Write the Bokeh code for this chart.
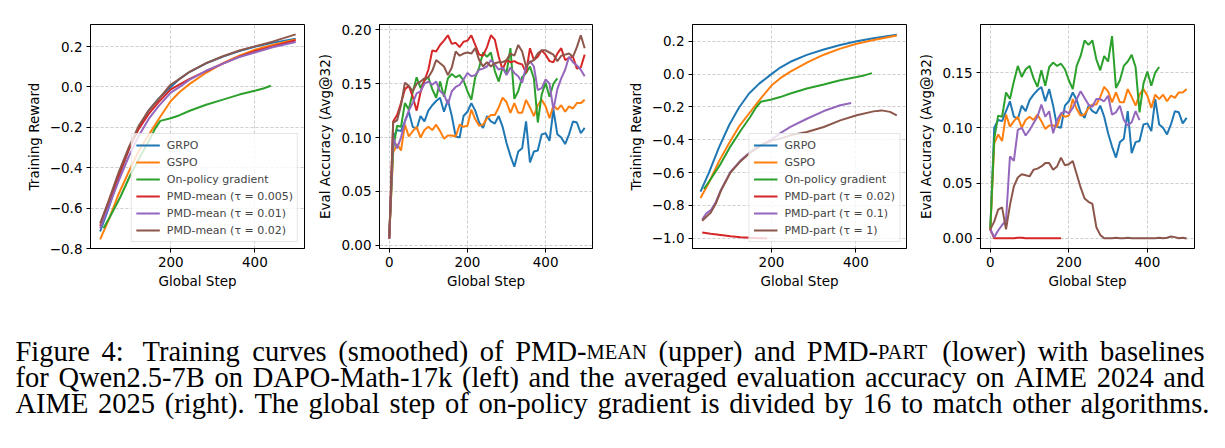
from bokeh.plotting import figure
from bokeh.models import Range1d, FixedTicker, CustomJSTickFormatter, Label
from bokeh.layouts import row, column
from bokeh.embed import file_html
from bokeh.resources import INLINE

# ---------------- data ----------------
# training reward (smoothed), shared baselines
train_x = [32, 52, 76, 100, 123, 147, 171, 200, 221, 245, 284, 324, 363, 402, 442, 497]
grpo_train = [-0.716, -0.60, -0.445, -0.31, -0.205, -0.118, -0.058, 0.0, 0.04, 0.075, 0.117, 0.15, 0.177, 0.2, 0.218, 0.239]
gspo_train = [-0.755, -0.66, -0.53, -0.42, -0.32, -0.24, -0.16, -0.07, -0.025, 0.015, 0.07, 0.118, 0.155, 0.185, 0.208, 0.235]
pg_train_x = [40, 56, 80, 103, 127, 150, 163, 175, 200, 221, 245, 284, 324, 363, 402, 420, 438]
pg_train = [-0.70, -0.64, -0.545, -0.44, -0.345, -0.26, -0.205, -0.168, -0.155, -0.14, -0.118, -0.088, -0.063, -0.038, -0.018, -0.008, 0.006]

mean005_train = [-0.69, -0.575, -0.44, -0.31, -0.21, -0.135, -0.075, -0.012, 0.012, 0.04, 0.078, 0.115, 0.15, 0.178, 0.2, 0.231]
mean01_train = [-0.70, -0.595, -0.465, -0.345, -0.245, -0.16, -0.095, -0.028, 0.0, 0.036, 0.08, 0.115, 0.148, 0.172, 0.196, 0.222]
mean02_train = [-0.676, -0.564, -0.423, -0.299, -0.195, -0.117, -0.06, 0.012, 0.04, 0.075, 0.118, 0.152, 0.18, 0.202, 0.224, 0.26]

part002_train_x = [36, 56, 80, 103, 127, 150, 174, 190]
part002_train = [-0.964, -0.972, -0.98, -0.988, -0.993, -0.997, -0.999, -1.0]
part01_train_x = [36, 45, 56, 68, 80, 103, 127, 150, 174, 200, 221, 245, 284, 324, 363, 389]
part01_train = [-0.885, -0.85, -0.83, -0.78, -0.707, -0.595, -0.525, -0.474, -0.433, -0.399, -0.36, -0.322, -0.272, -0.225, -0.19, -0.176]
part1_train_x = [36, 45, 56, 68, 80, 103, 127, 150, 174, 200, 221, 245, 284, 324, 363, 402, 442, 461, 481, 497]
part1_train = [-0.893, -0.87, -0.845, -0.79, -0.712, -0.6, -0.53, -0.478, -0.437, -0.405, -0.393, -0.373, -0.353, -0.322, -0.282, -0.251, -0.227, -0.221, -0.23, -0.251]

# eval accuracy (Avg@32)
eval_x = list(range(0, 501, 10))
grpo_eval = [0.007, 0.100, 0.107, 0.106, 0.115, 0.124, 0.110, 0.108, 0.120, 0.115,
             0.125, 0.130, 0.134, 0.137, 0.124, 0.135, 0.120, 0.101, 0.100, 0.120,
             0.124, 0.132, 0.125, 0.114, 0.109, 0.120, 0.115, 0.113, 0.120, 0.110,
             0.095, 0.083, 0.073, 0.087, 0.090, 0.115, 0.077, 0.087, 0.088, 0.103,
             0.104, 0.097, 0.126, 0.103, 0.100, 0.094, 0.103, 0.115, 0.114, 0.104, 0.109]
gspo_eval = [0.007, 0.086, 0.094, 0.088, 0.112, 0.101, 0.106, 0.110, 0.100, 0.107,
             0.110, 0.107, 0.112, 0.106, 0.099, 0.102, 0.102, 0.101, 0.112, 0.110,
             0.111, 0.126, 0.117, 0.111, 0.112, 0.118, 0.121, 0.121, 0.128, 0.137,
             0.133, 0.123, 0.132, 0.123, 0.123, 0.135, 0.128, 0.120, 0.130, 0.135,
             0.129, 0.118, 0.130, 0.126, 0.130, 0.124, 0.129, 0.127, 0.132, 0.132, 0.135]
pg_eval_x = list(range(0, 431, 10))
pg_eval = [0.009, 0.090, 0.111, 0.110, 0.132, 0.126, 0.142, 0.156, 0.146, 0.153,
           0.156, 0.145, 0.137, 0.152, 0.138, 0.155, 0.159, 0.156, 0.158, 0.153,
           0.143, 0.135, 0.156, 0.165, 0.179, 0.175, 0.179, 0.162, 0.152, 0.165,
           0.160, 0.183, 0.136, 0.143, 0.156, 0.160, 0.166, 0.155, 0.114, 0.140,
           0.151, 0.138, 0.150, 0.155]
mean005_eval = [0.006, 0.115, 0.121, 0.132, 0.145, 0.148, 0.138, 0.125, 0.142, 0.153,
                0.163, 0.181, 0.180, 0.186, 0.190, 0.195, 0.187, 0.188, 0.184, 0.189,
                0.190, 0.195, 0.186, 0.177, 0.176, 0.184, 0.195, 0.191, 0.175, 0.163,
                0.172, 0.170, 0.171, 0.169, 0.168, 0.160, 0.183, 0.172, 0.175, 0.181,
                0.177, 0.171, 0.170, 0.178, 0.183, 0.172, 0.174, 0.175, 0.164, 0.165, 0.177]
mean01_eval = [0.006, 0.100, 0.090, 0.100, 0.115, 0.125, 0.132, 0.141, 0.143, 0.150,
               0.152, 0.149, 0.152, 0.143, 0.140, 0.131, 0.143, 0.147, 0.149, 0.154,
               0.160, 0.157, 0.158, 0.163, 0.164, 0.166, 0.172, 0.168, 0.163, 0.165,
               0.158, 0.165, 0.160, 0.157, 0.151, 0.166, 0.171, 0.166, 0.144, 0.146,
               0.154, 0.150, 0.126, 0.145, 0.155, 0.163, 0.175, 0.170, 0.167, 0.163, 0.157]
mean02_eval = [0.006, 0.114, 0.116, 0.130, 0.151, 0.148, 0.143, 0.150, 0.152, 0.155,
               0.156, 0.162, 0.172, 0.169, 0.166, 0.158, 0.165, 0.180, 0.176, 0.178,
               0.179, 0.178, 0.183, 0.172, 0.166, 0.170, 0.166, 0.169, 0.170, 0.170,
               0.172, 0.178, 0.176, 0.186, 0.180, 0.166, 0.170, 0.172, 0.178, 0.181,
               0.181, 0.179, 0.177, 0.171, 0.176, 0.177, 0.178, 0.175, 0.184, 0.195, 0.183]
part002_eval_x = list(range(0, 181, 10))
part002_eval = [0.008, 0.0, 0.0, 0.0, 0.0, 0.0, 0.0, 0.0005, 0.0005, 0.0,
                0.0, 0.0, 0.0, 0.0, 0.0, 0.0, 0.0, 0.0, 0.0]
part01_eval_x = list(range(0, 381, 10))
part01_eval = [0.008, 0.001, 0.007, 0.012, 0.016, 0.074, 0.070, 0.098, 0.100, 0.093,
               0.098, 0.104, 0.110, 0.121, 0.110, 0.115, 0.095, 0.107, 0.113, 0.115,
               0.113, 0.118, 0.126, 0.133, 0.127, 0.121, 0.119, 0.126, 0.126, 0.124,
               0.129, 0.112, 0.114, 0.120, 0.107, 0.102, 0.105, 0.115, 0.107]
part1_eval = [0.008, 0.015, 0.026, 0.028, 0.008, 0.030, 0.047, 0.055, 0.058, 0.057,
              0.056, 0.062, 0.063, 0.065, 0.068, 0.068, 0.062, 0.065, 0.073, 0.066,
              0.067, 0.070, 0.058, 0.046, 0.036, 0.033, 0.031, 0.010, 0.003, 0.0,
              0.0, 0.0, 0.0005, 0.0, 0.0, 0.0005, 0.0, 0.0, 0.0, 0.0,
              0.0, 0.0, 0.0, 0.0005, 0.0, 0.0005, 0.0015, 0.001, 0.0, 0.0005, -0.0003]

x_ticks = [0, 200, 400]
train_mean_ticks = [-0.8, -0.6, -0.4, -0.2, 0.0, 0.2]
train_part_ticks = [-1.0, -0.8, -0.6, -0.4, -0.2, 0.0, 0.2]
eval_mean_ticks = [0.0, 0.05, 0.1, 0.15, 0.2]
eval_part_ticks = [0.0, 0.05, 0.1, 0.15]

labels_base = ["GRPO", "GSPO", "On-policy gradient"]
labels_mean = ["PMD-mean (\u03c4 = 0.005)", "PMD-mean (\u03c4 = 0.01)", "PMD-mean (\u03c4 = 0.02)"]
labels_part = ["PMD-part (\u03c4 = 0.02)", "PMD-part (\u03c4 = 0.1)", "PMD-part (\u03c4 = 1)"]

caption_lines = [
    "Figure 4:  Training curves (smoothed) of PMD-MEAN (upper) and PMD-PART (lower) with baselines",
    "for Qwen2.5-7B on DAPO-Math-17k (left) and the averaged evaluation accuracy on AIME 2024 and",
    "AIME 2025 (right). The global step of on-policy gradient is divided by 16 to match other algorithms.",
]
small_caps_words = ["MEAN", "PART"]

# ---------------- style ----------------
FONT = "DejaVu Sans"
COLORS = ["#1f77b4", "#ff7f0e", "#2ca02c", "#d62728", "#9467bd", "#8c564b"]
LW = 2


def make_fig(width, left, right, xr, yr, yticks, ydec, ylabel):
    p = figure(width=width, height=300, x_range=Range1d(*xr), y_range=Range1d(*yr),
               toolbar_location=None, output_backend="svg", tools="")
    p.min_border_left = left
    p.min_border_right = right
    p.min_border_top = 24
    p.min_border_bottom = 52
    p.outline_line_color = "black"
    p.outline_line_width = 1
    p.outline_line_alpha = 1
    p.background_fill_color = "white"
    p.border_fill_color = "white"
    for ax in (p.xaxis[0], p.yaxis[0]):
        ax.axis_line_color = "black"
        ax.major_tick_line_color = "black"
        ax.major_tick_out = 4
        ax.major_tick_in = 0
        ax.minor_tick_line_color = None
        ax.major_label_text_font = FONT
        ax.major_label_text_font_size = "13.5px"
        ax.major_label_text_color = "black"
        ax.axis_label_text_font = FONT
        ax.axis_label_text_font_size = "13.5px"
        ax.axis_label_text_font_style = "normal"
        ax.axis_label_text_color = "black"
        ax.major_label_standoff = 4
    p.xaxis.ticker = FixedTicker(ticks=x_ticks)
    p.yaxis.ticker = FixedTicker(ticks=yticks)
    p.yaxis.formatter = CustomJSTickFormatter(
        code="return tick.toFixed(%d).replace('-', '\u2212');" % ydec)
    p.xaxis.axis_label = "Global Step"
    p.yaxis.axis_label = ylabel
    p.xaxis.axis_label_standoff = 3
    p.yaxis.axis_label_standoff = 5
    p.grid.grid_line_color = "#b0b0b0"
    p.grid.grid_line_dash = "3 2"
    p.grid.grid_line_width = 0.8
    p.grid.grid_line_alpha = 0.8
    return p


def style_legend(p):
    lg = p.legend[0]
    lg.location = "bottom_right"
    lg.margin = 6
    lg.padding = 4
    lg.spacing = 3
    lg.glyph_width = 24
    lg.glyph_height = 14
    lg.label_height = 14
    lg.label_standoff = 7
    lg.label_text_font = FONT
    lg.label_text_font_size = "11px"
    lg.border_line_color = "#cccccc"
    lg.border_line_width = 1
    lg.background_fill_color = "white"
    lg.background_fill_alpha = 0.8


# Panel 1: training reward, PMD-mean
p1 = make_fig(310, 90, 6, (9, 518), (-0.8, 0.309), train_mean_ticks, 1, "Training Reward")
p1.line(train_x, grpo_train, color=COLORS[0], line_width=LW, legend_label=labels_base[0])
p1.line(train_x, gspo_train, color=COLORS[1], line_width=LW, legend_label=labels_base[1])
p1.line(pg_train_x, pg_train, color=COLORS[2], line_width=LW, legend_label=labels_base[2])
p1.line(train_x, mean005_train, color=COLORS[3], line_width=LW, legend_label=labels_mean[0])
p1.line(train_x, mean01_train, color=COLORS[4], line_width=LW, legend_label=labels_mean[1])
p1.line(train_x, mean02_train, color=COLORS[5], line_width=LW, legend_label=labels_mean[2])
style_legend(p1)

# Panel 2: eval accuracy, PMD-mean
p2 = make_fig(290, 69, 8, (-25, 520), (-0.003, 0.205), eval_mean_ticks, 2, "Eval Accuracy (Avg@32)")
p2.line(eval_x, grpo_eval, color=COLORS[0], line_width=LW)
p2.line(eval_x, gspo_eval, color=COLORS[1], line_width=LW)
p2.line(pg_eval_x, pg_eval, color=COLORS[2], line_width=LW)
p2.line(eval_x, mean005_eval, color=COLORS[3], line_width=LW)
p2.line(eval_x, mean01_eval, color=COLORS[4], line_width=LW)
p2.line(eval_x, mean02_eval, color=COLORS[5], line_width=LW)

# Panel 3: training reward, PMD-part
p3 = make_fig(315, 92, 9, (13, 520), (-1.062, 0.302), train_part_ticks, 1, "Training Reward")
p3.line(train_x, grpo_train, color=COLORS[0], line_width=LW, legend_label=labels_base[0])
p3.line(train_x, gspo_train, color=COLORS[1], line_width=LW, legend_label=labels_base[1])
p3.line(pg_train_x, pg_train, color=COLORS[2], line_width=LW, legend_label=labels_base[2])
p3.line(part002_train_x, part002_train, color=COLORS[3], line_width=LW, legend_label=labels_part[0])
p3.line(part01_train_x, part01_train, color=COLORS[4], line_width=LW, legend_label=labels_part[1])
p3.line(part1_train_x, part1_train, color=COLORS[5], line_width=LW, legend_label=labels_part[2])
style_legend(p3)

# Panel 4: eval accuracy, PMD-part
p4 = make_fig(310, 64, 31, (-25, 520), (-0.0093, 0.1935), eval_part_ticks, 2, "Eval Accuracy (Avg@32)")
p4.line(eval_x, grpo_eval, color=COLORS[0], line_width=LW)
p4.line(eval_x, gspo_eval, color=COLORS[1], line_width=LW)
p4.line(pg_eval_x, pg_eval, color=COLORS[2], line_width=LW)
p4.line(part002_eval_x, part002_eval, color=COLORS[3], line_width=LW)
p4.line(part01_eval_x, part01_eval, color=COLORS[4], line_width=LW)
p4.line(eval_x, part1_eval, color=COLORS[5], line_width=LW)

# ---------------- caption ----------------
SERIF = "Liberation Serif"
CAP_SIZE = 28.5
SC_SCALE = 0.72
TW = {" ": 250, "(": 333, ")": 333, "-": 333, ":": 278, ".": 250, ",": 250, "@": 921,
      "0": 500, "1": 500, "2": 500, "4": 500, "5": 500, "6": 500, "7": 500,
      "A": 722, "B": 667, "D": 722, "E": 611, "F": 556, "I": 333, "M": 889, "N": 722, "O": 722,
      "P": 556, "Q": 722, "R": 667, "T": 611,
      "a": 444, "b": 500, "c": 444, "d": 500, "e": 444, "f": 333, "g": 500, "h": 500, "i": 278,
      "k": 500, "l": 278, "m": 778, "n": 500, "o": 500, "p": 500, "q": 500, "r": 333, "s": 389,
      "t": 278, "u": 500, "v": 500, "w": 722, "y": 500}


def tw(s, size):
    return sum(TW.get(ch, 500) for ch in s) / 1000.0 * size


def split_runs(word):
    # PMD-MEAN -> [("PMD-", normal), ("MEAN", small caps)]
    for sc in small_caps_words:
        if word.endswith(sc) and word != sc:
            return [(word[:-len(sc)], 0), (sc, 1)]
    return [(word, 0)]


def run_size(sc):
    return CAP_SIZE * (SC_SCALE if sc else 1.0)


cap = figure(width=1225, height=148, x_range=Range1d(0, 1225), y_range=Range1d(0, 148),
             toolbar_location=None, output_backend="svg", tools="",
             x_axis_type=None, y_axis_type=None, min_border=0)
cap.grid.visible = False
cap.outline_line_color = None
cap.background_fill_color = "white"
cap.border_fill_color = "white"

X0 = 15
line_ends = [1204, 1204, 1209]
baselines = [97, 71, 45]  # from bottom of caption area

for li, line in enumerate(caption_lines):
    parts = line.split(" ")
    words = []
    extra = []  # extra natural space before next word (double spaces)
    for w in parts:
        if w == "":
            if extra:
                extra[-1] += 1
            continue
        words.append(split_runs(w))
        extra.append(0)
    word_w = [sum(tw(t, run_size(sc)) for t, sc in w) for w in words]
    extra_w = sum(extra[:-1]) * tw(" ", CAP_SIZE)
    gap = (line_ends[li] - X0 - sum(word_w) - extra_w) / (len(words) - 1)
    x = X0
    for i, w in enumerate(words):
        xx = x
        for t, sc in w:
            cap.add_layout(Label(x=xx, y=baselines[li], x_units="screen", y_units="screen", text=t,
                                 text_font=SERIF, text_font_size="%.1fpx" % run_size(sc),
                                 text_color="black", text_align="left",
                                 text_baseline="alphabetic"))
            xx += tw(t, run_size(sc))
        x += word_w[i] + gap + extra[i] * tw(" ", CAP_SIZE)

layout = column(row(p1, p2, p3, p4), cap)
open("out.html", "w").write(file_html(layout, INLINE))
